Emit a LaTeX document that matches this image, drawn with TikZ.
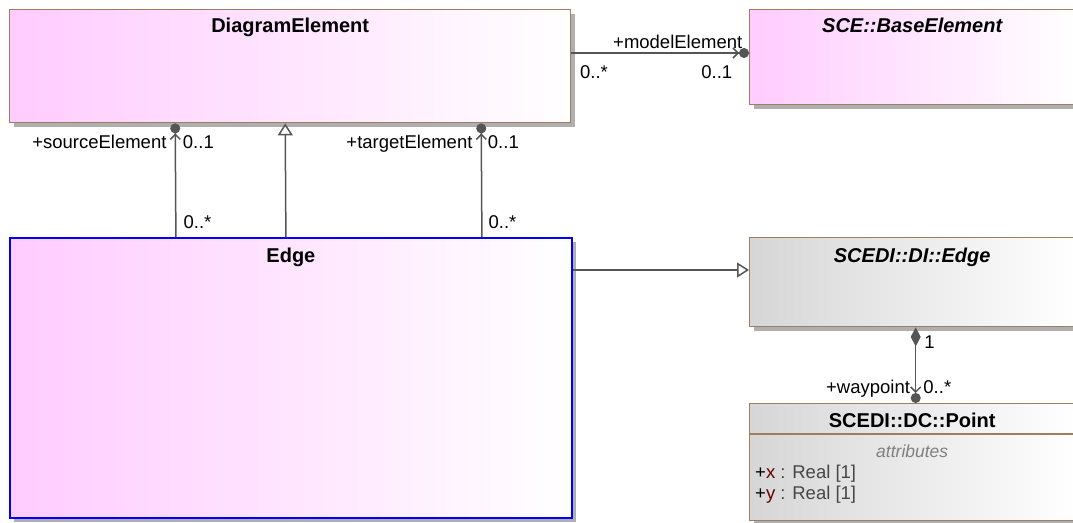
\documentclass[tikz,border=0pt]{standalone}
\usepackage{fontspec}
\setmainfont{Liberation Sans}
\usetikzlibrary{positioning,arrows.meta,shadows}

\definecolor{umlpink}{RGB}{255,204,255}
\definecolor{umlgray}{RGB}{214,214,214}
\definecolor{umlbrown}{RGB}{160,124,96}
\definecolor{umlline}{RGB}{85,85,85}
\definecolor{umlshadow}{RGB}{175,175,175}
\definecolor{umlred}{RGB}{100,0,0}
\definecolor{umltext}{RGB}{70,70,70}

\begin{document}
\begin{tikzpicture}[x=1pt,y=-1pt,
  class/.style={rectangle,draw=umlbrown,line width=1.4pt,inner sep=0pt,anchor=north west,
    left color=umlpink,right color=white,
    general shadow={fill=umlshadow,shadow xshift=4pt,shadow yshift=-4pt}},
  diclass/.style={class,left color=umlgray,right color=white},
  title/.style={font=\fontsize{20}{22}\selectfont\bfseries,inner sep=0pt,text height=13pt,text depth=4pt},
  lbl/.style={font=\fontsize{18.5}{20}\selectfont,inner sep=0pt},
  assoc/.style={draw=umlline,line width=1.5pt,-{Straight Barb[length=5pt,width=10pt] Circle[length=10pt]}},
  inherit/.style={draw=umlline,line width=1.5pt,-{Triangle[open,fill=white,length=12pt,width=15pt]}},
  compo/.style={draw=umlline,line width=1.5pt,{Diamond[length=19pt,width=10pt]}-{Straight Barb[length=5pt,width=10pt] Circle[length=10pt]}}]

  \useasboundingbox (0,0) rectangle (1073,522);

  % classes
  \node[class,minimum width=561pt,minimum height=113pt] (dgm) at (9,9) {};
  \node[class,minimum width=325pt,minimum height=95pt] (base) at (749,9) {};
  \node[class,draw=blue,line width=1.8pt,minimum width=562pt,minimum height=280pt] (edge) at (9,237) {};
  \node[diclass,minimum width=325pt,minimum height=89pt] (diedge) at (749,237) {};
  \node[diclass,minimum width=325pt,minimum height=117pt] (point) at (749,403) {};

  \node[title,below=10pt of dgm.north] (dgmname) {DiagramElement};
  \node[title,below=10pt of base.north,font=\fontsize{20}{22}\selectfont\bfseries\itshape] (basename) {SCE::BaseElement};
  \node[title,below=12pt of edge.north] (edgename) {Edge};
  \node[title,below=12pt of diedge.north,font=\fontsize{20}{22}\selectfont\bfseries\itshape] (diedgename) {SCEDI::DI::Edge};
  \node[title,below=11pt of point.north] (pointname) {SCEDI::DC::Point};

  % attribute compartment
  \draw[draw=umlbrown,line width=1.3pt] ([yshift=-31pt]point.north west) -- ([yshift=-31pt]point.north east);
  \node[lbl,anchor=base,text=gray,font=\fontsize{17.5}{20}\selectfont\itshape] (attrs) at ([yshift=-54pt]point.north) {attributes};
  \node[lbl,anchor=base west,align=left,font=\fontsize{18.5}{21}\selectfont,text=umltext] (attrlist)
    at ([xshift=6pt,yshift=-96pt]point.north west)
    {\textcolor{black}{+}\textcolor{umlred}{x} : Real [1]\\\textcolor{black}{+}\textcolor{umlred}{y} : Real [1]};

  % connectors
  \path[every node/.style={lbl}]
   ([yshift=-44pt]dgm.north east) edge[assoc]
     node[at end,anchor=base east,xshift=-6pt,yshift=5pt]{+modelElement}
     node[at end,anchor=base east,xshift=-16pt,yshift=-25pt]{0..1}
     node[at start,anchor=base west,xshift=8pt,yshift=-25pt]{0..*}
     ([yshift=-44pt]base.north west)
   ([xshift=-115pt]edge.north) edge[assoc]
     node[at end,anchor=base east,xshift=-8pt,yshift=-25pt]{+sourceElement}
     node[at end,anchor=base west,xshift=7pt,yshift=-25pt]{0..1}
     node[at start,anchor=base west,xshift=7pt,yshift=9pt]{0..*}
     ([xshift=-115pt]dgm.south)
   ([xshift=-5pt]edge.north) edge[inherit] ([xshift=-5pt]dgm.south)
   ([xshift=191pt]edge.north) edge[assoc]
     node[at end,anchor=base east,xshift=-8pt,yshift=-25pt]{+targetElement}
     node[at end,anchor=base west,xshift=6pt,yshift=-25pt]{0..1}
     node[at start,anchor=base west,xshift=6pt,yshift=9pt]{0..*}
     ([xshift=191pt]dgm.south)
   ([yshift=-33pt]edge.north east) edge[inherit] ([yshift=-33pt]diedge.north west)
   ([xshift=3.5pt]diedge.south) edge[compo]
     node[at start,anchor=base west,xshift=8pt,yshift=-21pt]{1}
     node[at end,anchor=base east,xshift=-5pt,yshift=10pt]{+waypoint}
     node[at end,anchor=base west,xshift=7pt,yshift=10pt]{0..*}
     ([xshift=3.5pt]point.north);
\end{tikzpicture}
\end{document}
